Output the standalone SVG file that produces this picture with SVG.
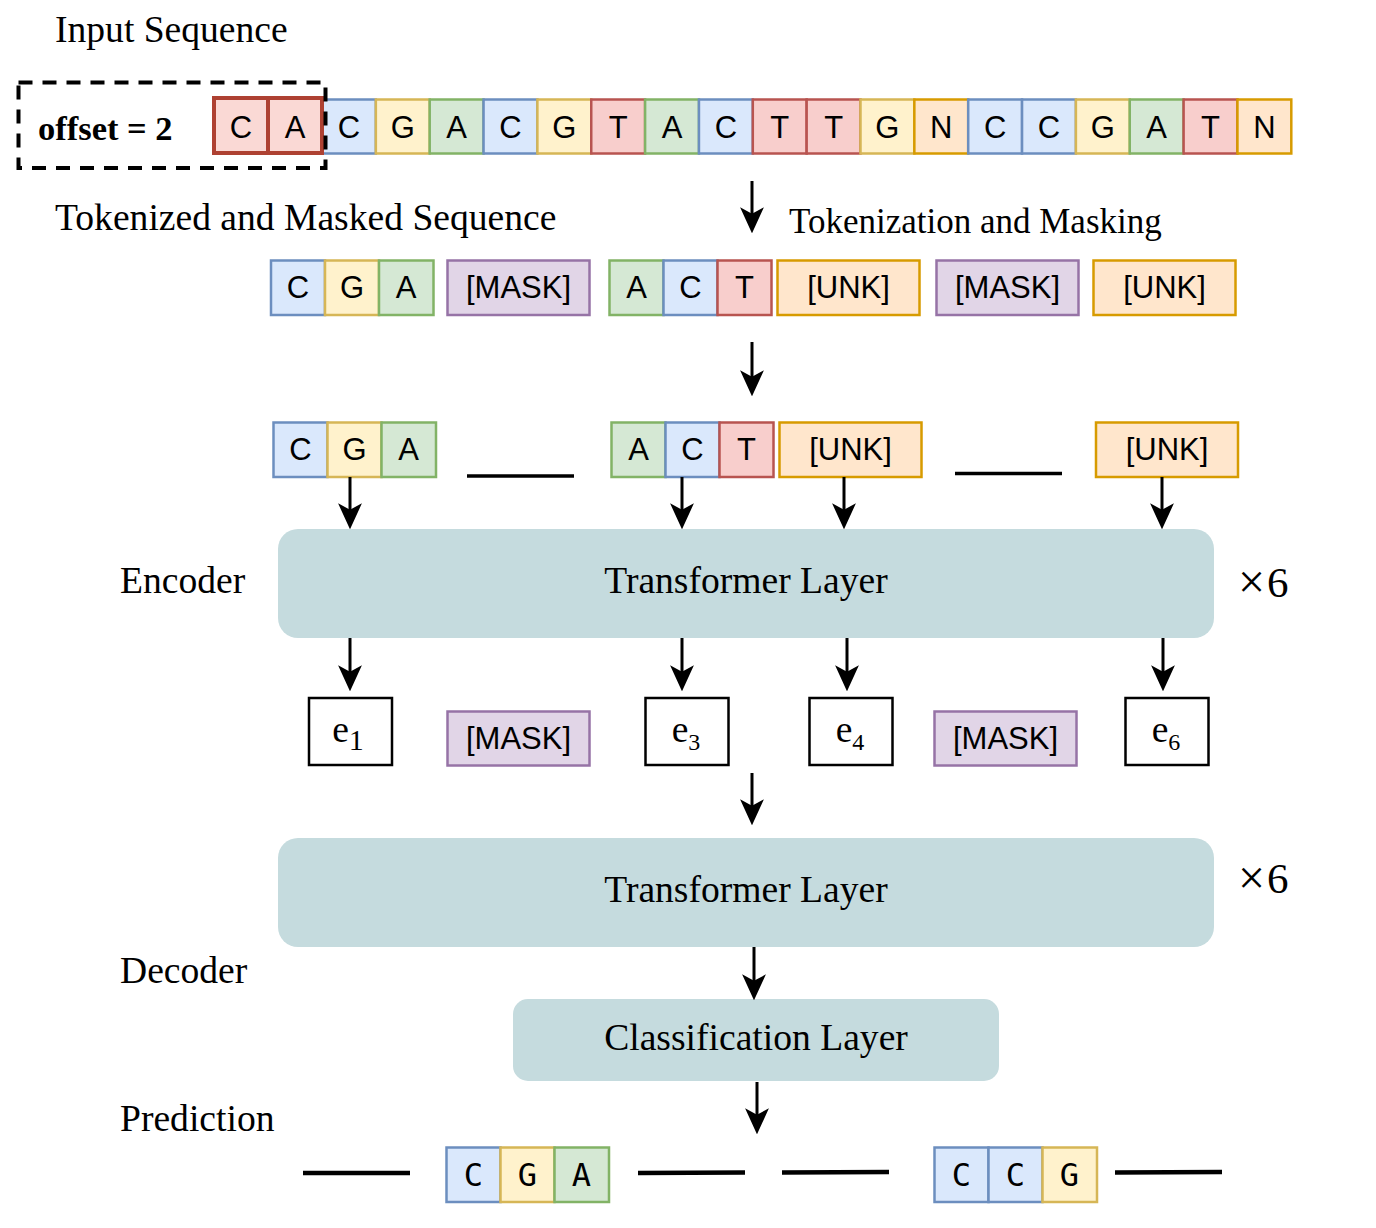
<svg xmlns="http://www.w3.org/2000/svg" width="1376" height="1228" viewBox="0 0 1376 1228">
<style>
.lbl{font-family:"Liberation Serif","Times New Roman",serif;font-size:37.6px;fill:#000}
.tk{font-family:"Liberation Sans",Arial,sans-serif;font-size:31px;fill:#000;text-anchor:middle}
.mono{font-family:"DejaVu Sans Mono","Liberation Mono",monospace;font-size:32px;fill:#000;text-anchor:middle}
.b{fill:#dae8fc;stroke:#6c8ebf;stroke-width:2.5}
.y{fill:#fff2cc;stroke:#d6b656;stroke-width:2.5}
.g{fill:#d5e8d4;stroke:#82b366;stroke-width:2.5}
.r{fill:#f8cecc;stroke:#b85450;stroke-width:2.5}
.o{fill:#ffe6cc;stroke:#d79b00;stroke-width:2.5}
.p{fill:#e1d5e7;stroke:#9673a6;stroke-width:2.5}
.rr{fill:#fad9d5;stroke:#ae4132;stroke-width:4}
.layer{fill:#c5dbde}
.ebox{fill:#fff;stroke:#000;stroke-width:2.5}
.arr{stroke:#000;stroke-width:3;fill:none;marker-end:url(#ah)}
.gap{stroke:#000;stroke-width:3.5}
.gap2{stroke:#000;stroke-width:4.5}
.times{font-family:"Liberation Serif","Times New Roman",serif;font-size:43px;fill:#000}
</style>
<defs>
<marker id="ah" markerUnits="userSpaceOnUse" markerWidth="26" markerHeight="24" viewBox="0 0 24 22" refX="8" refY="11" orient="auto">
<path d="M0,0 L24,11 L0,22 L6,11 Z" fill="#000"/>
</marker>
</defs>
<rect width="1376" height="1228" fill="#fff"/>

<g id="titles">
<text class="lbl" x="55" y="42">Input Sequence</text>
<text class="lbl" x="55" y="230">Tokenized and Masked Sequence</text>
<text class="lbl" x="789" y="233" style="font-size:35px">Tokenization and Masking</text>
<text class="lbl" x="120" y="593">Encoder</text>
<text class="lbl" x="120" y="983">Decoder</text>
<text class="lbl" x="120" y="1131">Prediction</text>
</g>

<g id="input-sequence">
<rect class="b" x="322" y="99.5" width="53.85" height="54"/><text class="tk" x="348.9" y="138">C</text>
<rect class="y" x="375.85" y="99.5" width="53.85" height="54"/><text class="tk" x="402.8" y="138">G</text>
<rect class="g" x="429.7" y="99.5" width="53.85" height="54"/><text class="tk" x="456.6" y="138">A</text>
<rect class="b" x="483.55" y="99.5" width="53.85" height="54"/><text class="tk" x="510.5" y="138">C</text>
<rect class="y" x="537.4" y="99.5" width="53.85" height="54"/><text class="tk" x="564.3" y="138">G</text>
<rect class="r" x="591.25" y="99.5" width="53.85" height="54"/><text class="tk" x="618.2" y="138">T</text>
<rect class="g" x="645.1" y="99.5" width="53.85" height="54"/><text class="tk" x="672" y="138">A</text>
<rect class="b" x="698.95" y="99.5" width="53.85" height="54"/><text class="tk" x="725.9" y="138">C</text>
<rect class="r" x="752.8" y="99.5" width="53.85" height="54"/><text class="tk" x="779.7" y="138">T</text>
<rect class="r" x="806.65" y="99.5" width="53.85" height="54"/><text class="tk" x="833.6" y="138">T</text>
<rect class="y" x="860.5" y="99.5" width="53.85" height="54"/><text class="tk" x="887.4" y="138">G</text>
<rect class="o" x="914.35" y="99.5" width="53.85" height="54"/><text class="tk" x="941.3" y="138">N</text>
<rect class="b" x="968.2" y="99.5" width="53.85" height="54"/><text class="tk" x="995.1" y="138">C</text>
<rect class="b" x="1022.05" y="99.5" width="53.85" height="54"/><text class="tk" x="1049" y="138">C</text>
<rect class="y" x="1075.9" y="99.5" width="53.85" height="54"/><text class="tk" x="1102.8" y="138">G</text>
<rect class="g" x="1129.75" y="99.5" width="53.85" height="54"/><text class="tk" x="1156.7" y="138">A</text>
<rect class="r" x="1183.6" y="99.5" width="53.85" height="54"/><text class="tk" x="1210.5" y="138">T</text>
<rect class="o" x="1237.45" y="99.5" width="53.85" height="54"/><text class="tk" x="1264.4" y="138">N</text>
</g>

<g id="offset">
<rect class="rr" x="214" y="98" width="54" height="55"/><text class="tk" x="241" y="138">C</text>
<rect class="rr" x="268" y="98" width="54" height="55"/><text class="tk" x="295" y="138">A</text>
<rect x="18.5" y="82.5" width="307" height="85.5" fill="none" stroke="#000" stroke-width="4" stroke-dasharray="14 10"/>
<text class="lbl" x="38" y="140" style="font-weight:bold;font-size:34.5px">offset = 2</text>
</g>

<g id="tokenized">
<rect class="b" x="271" y="260.5" width="54" height="54.5"/><text class="tk" x="298" y="298">C</text>
<rect class="y" x="325" y="260.5" width="54" height="54.5"/><text class="tk" x="352" y="298">G</text>
<rect class="g" x="379" y="260.5" width="54.5" height="54.5"/><text class="tk" x="406" y="298">A</text>
<rect class="p" x="447.5" y="260.5" width="142" height="54.5"/><text class="tk" x="518.5" y="298">[MASK]</text>
<rect class="g" x="609.5" y="260.5" width="54" height="54.5"/><text class="tk" x="636.5" y="298">A</text>
<rect class="b" x="663.5" y="260.5" width="54" height="54.5"/><text class="tk" x="690.5" y="298">C</text>
<rect class="r" x="717.5" y="260.5" width="54" height="54.5"/><text class="tk" x="744.5" y="298">T</text>
<rect class="o" x="777.5" y="260.5" width="142" height="54.5"/><text class="tk" x="848.5" y="298">[UNK]</text>
<rect class="p" x="936.5" y="260.5" width="142" height="54.5"/><text class="tk" x="1007.5" y="298">[MASK]</text>
<rect class="o" x="1093.5" y="260.5" width="142" height="54.5"/><text class="tk" x="1164.5" y="298">[UNK]</text>
</g>

<g id="encoder-input">
<rect class="b" x="273.5" y="422.5" width="54" height="54.5"/><text class="tk" x="300.5" y="460">C</text>
<rect class="y" x="327.5" y="422.5" width="54" height="54.5"/><text class="tk" x="354.5" y="460">G</text>
<rect class="g" x="381.5" y="422.5" width="54.5" height="54.5"/><text class="tk" x="408.5" y="460">A</text>
<rect class="g" x="611.5" y="422.5" width="54" height="54.5"/><text class="tk" x="638.5" y="460">A</text>
<rect class="b" x="665.5" y="422.5" width="54" height="54.5"/><text class="tk" x="692.5" y="460">C</text>
<rect class="r" x="719.5" y="422.5" width="54" height="54.5"/><text class="tk" x="746.5" y="460">T</text>
<rect class="o" x="779.5" y="422.5" width="142" height="54.5"/><text class="tk" x="850.5" y="460">[UNK]</text>
<rect class="o" x="1096" y="422.5" width="142" height="54.5"/><text class="tk" x="1167" y="460">[UNK]</text>
<line class="gap" x1="467" y1="476" x2="574" y2="476"/>
<line class="gap" x1="955" y1="473.5" x2="1062" y2="473.5"/>
</g>

<g id="encoder">
<rect class="layer" x="278" y="529" width="936" height="109" rx="20"/>
<text class="lbl" x="746" y="593" text-anchor="middle">Transformer Layer</text>
<text class="times" x="1238" y="597"><tspan style="font-size:48px" dy="1">×</tspan><tspan dx="2" dy="-1">6</tspan></text>
</g>

<g id="embeddings">
<rect class="ebox" x="309" y="698" width="83" height="67"/>
<text class="lbl" x="348" y="742" text-anchor="middle">e<tspan dy="8" style="font-size:30px">1</tspan></text>
<rect class="p" x="447.5" y="711.5" width="142" height="54"/><text class="tk" x="518.5" y="749">[MASK]</text>
<rect class="ebox" x="645.5" y="698" width="83" height="67"/>
<text class="lbl" x="686" y="742" text-anchor="middle">e<tspan dy="8" style="font-size:24px">3</tspan></text>
<rect class="ebox" x="809.5" y="698" width="83" height="67"/>
<text class="lbl" x="850" y="742" text-anchor="middle">e<tspan dy="8" style="font-size:24px">4</tspan></text>
<rect class="p" x="934.5" y="711.5" width="142" height="54"/><text class="tk" x="1005.5" y="749">[MASK]</text>
<rect class="ebox" x="1125.5" y="698" width="83" height="67"/>
<text class="lbl" x="1166" y="742" text-anchor="middle">e<tspan dy="8" style="font-size:24px">6</tspan></text>
</g>

<g id="decoder">
<rect class="layer" x="278" y="838" width="936" height="109" rx="20"/>
<text class="lbl" x="746" y="902" text-anchor="middle">Transformer Layer</text>
<text class="times" x="1238" y="893"><tspan style="font-size:48px" dy="1">×</tspan><tspan dx="2" dy="-1">6</tspan></text>
</g>

<g id="classification">
<rect class="layer" x="513" y="999" width="486" height="82" rx="15"/>
<text class="lbl" x="756" y="1050" text-anchor="middle">Classification Layer</text>
</g>

<g id="prediction">
<line class="gap2" x1="303" y1="1173" x2="410" y2="1173"/>
<rect class="b" x="446.5" y="1147.5" width="54" height="54.5"/><text class="mono" x="473.5" y="1186">C</text>
<rect class="y" x="500.5" y="1147.5" width="54" height="54.5"/><text class="mono" x="527.5" y="1186">G</text>
<rect class="g" x="554.5" y="1147.5" width="54.5" height="54.5"/><text class="mono" x="581.5" y="1186">A</text>
<line class="gap2" x1="638" y1="1173" x2="745" y2="1172.5"/>
<line class="gap2" x1="782" y1="1172.5" x2="889" y2="1172"/>
<rect class="b" x="934.5" y="1147.5" width="54" height="54.5"/><text class="mono" x="961.5" y="1186">C</text>
<rect class="b" x="988.5" y="1147.5" width="54" height="54.5"/><text class="mono" x="1015.5" y="1186">C</text>
<rect class="y" x="1042.5" y="1147.5" width="54.5" height="54.5"/><text class="mono" x="1069.5" y="1186">G</text>
<line class="gap2" x1="1115" y1="1172.5" x2="1222" y2="1172"/>
</g>

<g id="connectors">
<line class="arr" x1="752" y1="181" x2="752" y2="216"/>
<line class="arr" x1="752" y1="342" x2="752" y2="379"/>
<line class="arr" x1="350" y1="477" x2="350" y2="512"/>
<line class="arr" x1="682" y1="477" x2="682" y2="512"/>
<line class="arr" x1="844" y1="477" x2="844" y2="512"/>
<line class="arr" x1="1162" y1="477" x2="1162" y2="512"/>
<line class="arr" x1="350" y1="638" x2="350" y2="674"/>
<line class="arr" x1="682" y1="638" x2="682" y2="674"/>
<line class="arr" x1="847" y1="638" x2="847" y2="674"/>
<line class="arr" x1="1163" y1="638" x2="1163" y2="674"/>
<line class="arr" x1="752" y1="773" x2="752" y2="808"/>
<line class="arr" x1="754" y1="947" x2="754" y2="983"/>
<line class="arr" x1="757" y1="1082" x2="757" y2="1117"/>
</g>
</svg>
